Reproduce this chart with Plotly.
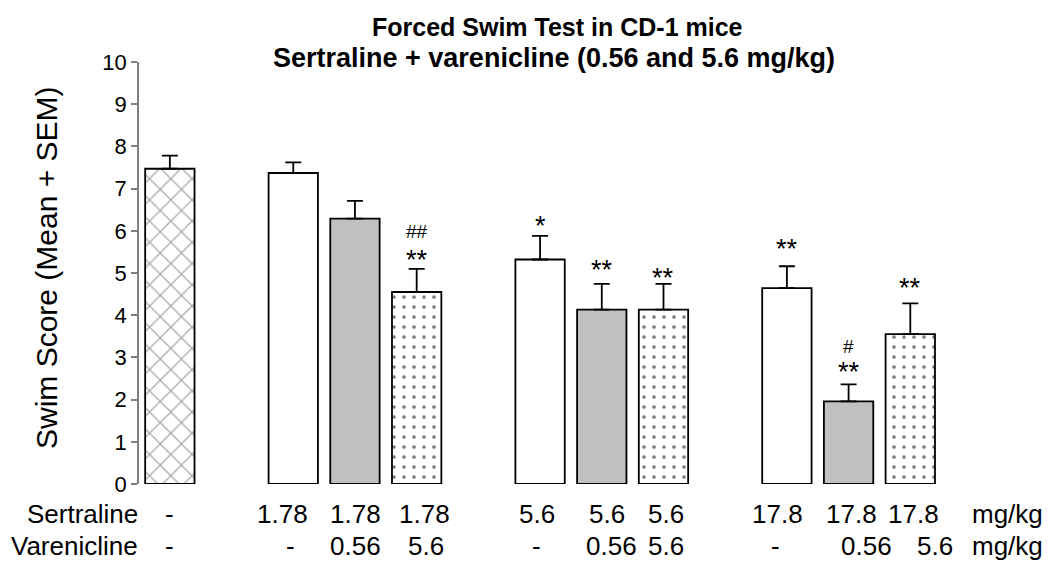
import plotly.graph_objects as go

# ---------------- data ----------------
sertraline = ["-", "1.78", "1.78", "1.78", "5.6", "5.6", "5.6", "17.8", "17.8", "17.8"]
varenicline = ["-", "-", "0.56", "5.6", "-", "0.56", "5.6", "-", "0.56", "5.6"]
group_index = [0, 1, 1, 1, 2, 2, 2, 3, 3, 3]
within_index = [0, 0, 1, 2, 0, 1, 2, 0, 1, 2]
means = [7.47, 7.37, 6.29, 4.55, 5.32, 4.13, 4.13, 4.64, 1.96, 3.55]
sems = [0.31, 0.25, 0.42, 0.55, 0.56, 0.61, 0.61, 0.52, 0.40, 0.73]
stars = ["", "", "", "**", "*", "**", "**", "**", "**", "**"]
star_y = [None, None, None, 5.38, 6.19, 5.15, 4.96, 5.63, 2.73, 4.71]
hashes = ["", "", "", "##", "", "", "", "", "#", ""]
hash_y = [None, None, None, 5.99, None, None, None, None, 3.27, None]
fill_kind = ["hatch", "white", "gray", "dots", "white", "gray", "dots", "white", "gray", "dots"]
y_ticks = list(range(0, 11))

# slot positions derived from group structure
xpos = [0 if g == 0 else 4 * g - 2 + w for g, w in zip(group_index, within_index)]

# ---------------- styling ----------------
FONT = "Liberation Sans, Arial, sans-serif"
PAGE_OFFSET = 8  # default body margin of the html page
PLOT_L, PLOT_T, PLOT_W, PLOT_H = 139, 62, 833, 422  # screen pixels of the plot area

styles = {
    "hatch": dict(color="white", pattern=dict(shape="x", size=15, solidity=0.16,
                                               fgcolor="#505050", bgcolor="white")),
    "white": dict(color="white"),
    "gray": dict(color="#c0c0c0"),
    "dots": dict(color="white", pattern=dict(shape=".", size=10, solidity=0.11,
                                              fgcolor="black", bgcolor="white")),
}

fig = go.Figure()
for kind in ["hatch", "white", "gray", "dots"]:
    idx = [i for i, k in enumerate(fill_kind) if k == kind]
    fig.add_trace(go.Bar(
        x=[xpos[i] for i in idx],
        y=[means[i] for i in idx],
        width=0.8,
        marker=dict(line=dict(color="black", width=1.8), **styles[kind]),
        error_y=dict(type="data", symmetric=False,
                     array=[sems[i] for i in idx],
                     arrayminus=[0] * len(idx),
                     color="black", thickness=1.8, width=8),
        showlegend=False,
        hoverinfo="skip",
    ))


def px_x(X):
    return (X - PLOT_L) / PLOT_W


def px_y(Y):
    return (PLOT_T + PLOT_H - Y) / PLOT_H


annotations = []
for i in range(len(means)):
    if stars[i]:
        annotations.append(dict(x=xpos[i], y=star_y[i], xref="x", yref="y",
                                text=stars[i], showarrow=False, yanchor="middle",
                                yshift=-3, font=dict(family=FONT, size=27, color="black")))
    if hashes[i]:
        annotations.append(dict(x=xpos[i], y=hash_y[i], xref="x", yref="y",
                                text=hashes[i], showarrow=False, yanchor="middle",
                                yshift=0, font=dict(family=FONT, size=19, color="black")))

# bottom dose table
row_y = [px_y(514), px_y(546)]
row1_shift = [0, -11, 1, 8, -3, 5, 3, -9, 3, 3]
row2_shift = [0, -3, 1, 9, -4, 10, 3, -11, 18, 25]
lab_font = dict(family=FONT, size=26, color="black")
for i in range(len(means)):
    annotations.append(dict(x=xpos[i], y=row_y[0], xref="x", yref="paper", text=sertraline[i],
                            showarrow=False, xshift=row1_shift[i], yanchor="middle",
                            xanchor="center", font=lab_font))
    annotations.append(dict(x=xpos[i], y=row_y[1], xref="x", yref="paper", text=varenicline[i],
                            showarrow=False, xshift=row2_shift[i], yanchor="middle",
                            xanchor="center", font=lab_font))
for yy, name in zip(row_y, ["Sertraline", "Varenicline"]):
    annotations.append(dict(x=px_x(140), y=yy, xref="paper", yref="paper",
                            text=name, showarrow=False, xanchor="right", yanchor="middle",
                            font=lab_font))
    annotations.append(dict(x=px_x(1007), y=yy, xref="paper", yref="paper",
                            text="mg/kg", showarrow=False, xanchor="center", yanchor="middle",
                            font=lab_font))

# titles
annotations.append(dict(x=px_x(557), y=px_y(27), xref="paper", yref="paper",
                        text="<b>Forced Swim Test in CD-1 mice</b>", showarrow=False,
                        xanchor="center", yanchor="middle",
                        font=dict(family=FONT, size=25, color="black")))
annotations.append(dict(x=px_x(554), y=px_y(58), xref="paper", yref="paper",
                        text="<b>Sertraline + varenicline (0.56 and 5.6 mg/kg)</b>",
                        showarrow=False, xanchor="center", yanchor="middle",
                        font=dict(family=FONT, size=27, color="black")))
annotations.append(dict(x=px_x(46), y=px_y(268), xref="paper", yref="paper",
                        text="Swim Score (Mean + SEM)", textangle=-90, showarrow=False,
                        xanchor="center", yanchor="middle",
                        font=dict(family=FONT, size=30, color="black")))

W, H = 1050 - PAGE_OFFSET, 577 - PAGE_OFFSET
fig.update_layout(
    width=W, height=H,
    margin=dict(l=PLOT_L - PAGE_OFFSET, r=W - (PLOT_L - PAGE_OFFSET) - PLOT_W,
                t=PLOT_T - PAGE_OFFSET, b=H - (PLOT_T - PAGE_OFFSET) - PLOT_H),
    paper_bgcolor="white", plot_bgcolor="white",
    barmode="overlay",
    annotations=annotations,
    xaxis=dict(range=[-0.5, 13], visible=False, fixedrange=True),
    yaxis=dict(range=[0, 10], tickvals=y_ticks, ticktext=[str(v) for v in y_ticks],
               showline=True, linecolor="#808080", linewidth=1.5,
               ticks="outside", ticklen=6, tickcolor="#808080", tickwidth=1.5,
               showgrid=False, zeroline=False,
               tickfont=dict(family=FONT, size=22, color="black")),
)

fig.write_html("out.html")
